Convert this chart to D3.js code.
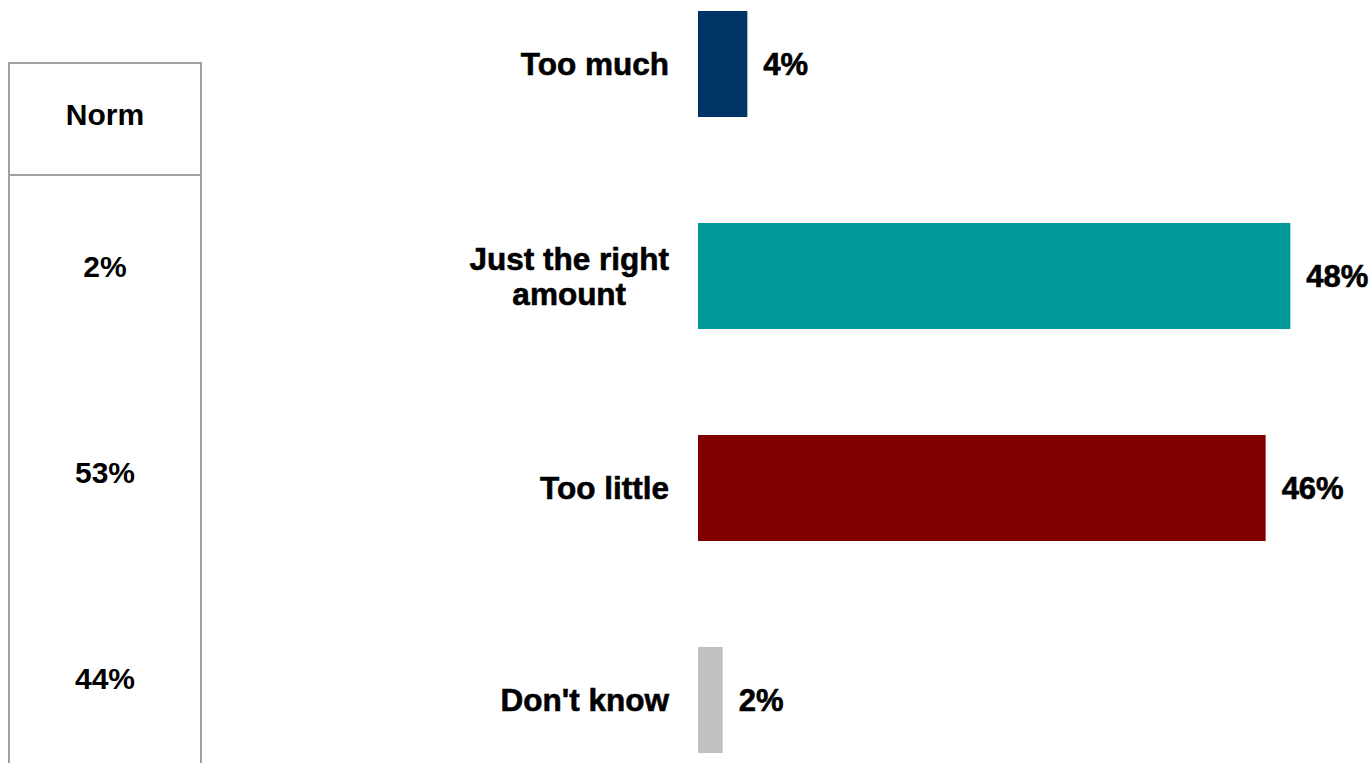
<!DOCTYPE html>
<html>
<head>
<meta charset="utf-8">
<script src="https://cdn.jsdelivr.net/npm/d3@7"></script>
<style>
  html, body { margin: 0; padding: 0; background: #ffffff; }
  svg { display: block; }
  text { font-family: "Liberation Sans", Arial, sans-serif; font-weight: bold; fill: #000; }
</style>
</head>
<body>
<svg id="chart" width="1369" height="763"></svg>
<script>
const categories = [["Too much"], ["Just the right", "amount"], ["Too little"], ["Don't know"]];
const values = [4, 48, 46, 2];
const colors = ["#003366", "#009999", "#800000", "#C0C0C0"];
const valueLabels = ["4%", "48%", "46%", "2%"];
const normHeader = "Norm";
const normLabels = ["2%", "53%", "44%"];

const W = 1369, H = 763;
const svg = d3.select("#chart");

const keys = categories.map((c, i) => i);
const y = d3.scaleBand().domain(keys).range([11, 753]).paddingInner(0.5).paddingOuter(0);
const x = d3.scaleLinear().domain([0, 50]).range([698, 1315]);

// Bars
svg.append("g").selectAll("rect").data(values).join("rect")
  .attr("x", x(0))
  .attr("y", (d, i) => y(i))
  .attr("width", d => x(d) - x(0))
  .attr("height", y.bandwidth())
  .attr("fill", (d, i) => colors[i]);

// Value labels
svg.append("g").selectAll("text").data(values).join("text")
  .attr("x", d => x(d) + 16)
  .attr("y", (d, i) => y(i) + y.bandwidth() / 2)
  .attr("dy", "0.36em")
  .attr("font-size", 31)
  .attr("stroke", "#000").attr("stroke-width", 0.6)
  .text((d, i) => valueLabels[i]);

// Category labels (block right-aligned, lines centered within block)
const rightEdge = 669;
const lineH = 35;
categories.forEach((lines, i) => {
  const g = svg.append("g");
  const t = g.append("text").attr("font-size", 31.5)
    .attr("stroke", "#000").attr("stroke-width", 0.6)
    .attr("text-anchor", "middle");
  const cy = y(i) + y.bandwidth() / 2;
  const n = lines.length;
  lines.forEach((ln, j) => {
    t.append("tspan").attr("y", cy + (j - (n - 1) / 2) * lineH).attr("dy", "0.36em").text(ln);
  });
  let maxW = 0;
  t.selectAll("tspan").each(function() { maxW = Math.max(maxW, this.getComputedTextLength()); });
  t.selectAll("tspan").attr("x", rightEdge - maxW / 2);
});

// Norm box
const boxL = 9, boxR = 201, boxTop = 63, divY = 175;
const box = svg.append("g").attr("stroke", "#a0a0a0").attr("stroke-width", 2).attr("fill", "none");
box.append("line").attr("x1", boxL).attr("x2", boxL).attr("y1", boxTop).attr("y2", H + 5);
box.append("line").attr("x1", boxR).attr("x2", boxR).attr("y1", boxTop).attr("y2", H + 5);
box.append("line").attr("x1", boxL - 1).attr("x2", boxR + 1).attr("y1", boxTop).attr("y2", boxTop);
box.append("line").attr("x1", boxL).attr("x2", boxR).attr("y1", divY).attr("y2", divY);

const cx = (boxL + boxR) / 2;
svg.append("text").attr("x", cx).attr("y", (boxTop + divY) / 2 - 5)
  .attr("dy", "0.36em").attr("text-anchor", "middle").attr("font-size", 30)
  .text(normHeader);

const ny = d3.scaleBand().domain(d3.range(normLabels.length)).range([163, 781]);
svg.append("g").selectAll("text").data(normLabels).join("text")
  .attr("x", cx)
  .attr("y", (d, i) => ny(i) + ny.bandwidth() / 2)
  .attr("dy", "0.36em").attr("text-anchor", "middle").attr("font-size", 30)
  .text(d => d);
</script>
</body>
</html>
